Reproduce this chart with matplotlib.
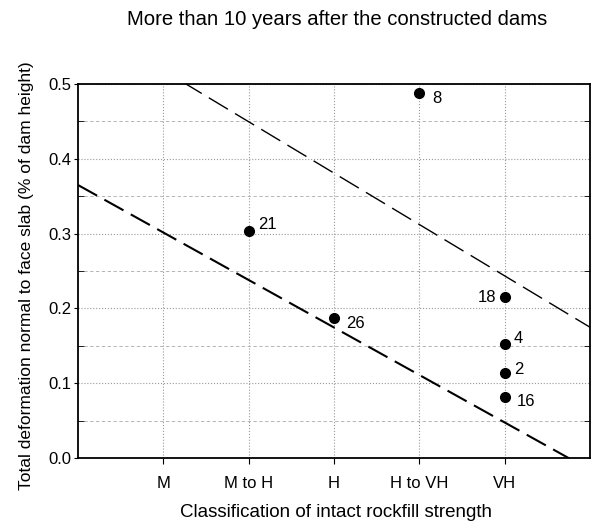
import matplotlib.pyplot as plt
import numpy as np
from matplotlib.ticker import MultipleLocator

plt.rcParams["font.family"] = ["Liberation Sans", "DejaVu Sans"]

classes = ["M", "M to H", "H", "H to VH", "VH"]
dam_ids = ["8", "21", "26", "18", "4", "2", "16"]
dam_class = [4, 2, 3, 5, 5, 5, 5]
deformation = [0.488, 0.303, 0.187, 0.215, 0.153, 0.113, 0.081]
label_offsets = [(9, -4), (7, 5), (9, -4), (-6, 0), (6.5, 3.5), (7, 3), (9, -3)]

# upper and lower bounding trend lines (intercept, slope)
upper_line = (0.587, -0.0687)
lower_line = (0.365, -0.0635)

fig = plt.figure(figsize=(5.93, 5.22), dpi=100)
ax = fig.add_axes([0.1315, 0.1226, 0.8635, 0.7164])

ax.set_xlim(0, 6)
ax.set_ylim(0, 0.5)
ax.set_xticks(range(1, 6))
ax.set_xticklabels(classes, fontsize=12)
ax.yaxis.set_major_locator(MultipleLocator(0.1))
ax.yaxis.set_minor_locator(MultipleLocator(0.05))
ax.yaxis.set_major_formatter("{x:.1f}")
ax.tick_params(axis="y", labelsize=12)
ax.tick_params(axis="x", which="major", direction="out", length=4, pad=9)
ax.tick_params(axis="y", which="major", direction="out", length=3, pad=1.5)
ax.tick_params(axis="y", which="minor", direction="in", length=4, right=True)

ax.grid(True, axis="x", which="major", ls=":", lw=0.8, color="#999999")
ax.grid(True, axis="y", which="major", ls=":", lw=0.8, color="#999999")
ax.grid(True, axis="y", which="minor", ls=(0, (4, 3)), lw=0.6, color="#aaaaaa")
ax.set_axisbelow(True)

for spine in ax.spines.values():
    spine.set_linewidth(1.3)

xs = np.array([0, 6])
ax.plot(xs, upper_line[0] + upper_line[1] * xs, color="black", lw=1.0, dashes=(16, 6))
ax.plot(xs, lower_line[0] + lower_line[1] * xs, color="black", lw=1.5, dashes=(10.5, 4))

ax.plot(dam_class, deformation, "o", color="black", ms=7, zorder=5)
for name, cx, val, off in zip(dam_ids, dam_class, deformation, label_offsets):
    ax.annotate(name, (cx, val), xytext=off, textcoords="offset points",
                fontsize=12, va="center", ha="right" if off[0] < 0 else "left")

ax.set_xlabel("Classification of intact rockfill strength", fontsize=13.5)
ax.xaxis.set_label_coords(0.504, -0.124)
ax.set_ylabel("Total deformation normal to face slab (% of dam height)", fontsize=12.5)
ax.yaxis.set_label_coords(-0.086, 0.487)
fig.text(0.568, 0.962, "More than 10 years after the constructed dams", fontsize=14.6,
         ha="center", va="center")

fig.savefig("out.png", dpi=100)
